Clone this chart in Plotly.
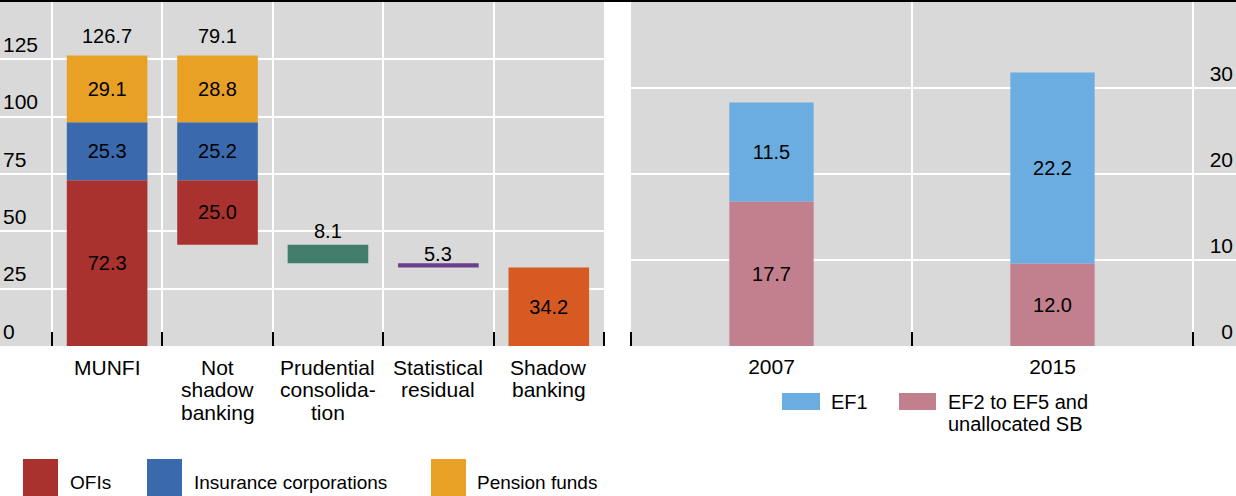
import plotly.graph_objects as go

# ---------------- data ----------------
left_categories = ["MUNFI", "Not<br>shadow<br>banking", "Prudential<br>consolida-<br>tion",
                   "Statistical<br>residual", "Shadow<br>banking"]
# stacked components of the first two bars (heights as drawn)
ofis = [72.3, 28.1]
insurance = [25.3, 25.3]
pension = [29.1, 29.1]
ofis_labels = ["72.3", "25.0"]
insurance_labels = ["25.3", "25.2"]
pension_labels = ["29.1", "28.8"]
total_labels = ["126.7", "79.1"]
prudential = 8.1
prudential_label = "8.1"
residual = 1.9
residual_label = "5.3"
shadow = 34.2
shadow_label = "34.2"

right_categories = ["2007", "2015"]
ef1 = [11.5, 22.2]
ef1_labels = ["11.5", "22.2"]
ef2 = [16.8, 9.6]
ef2_labels = ["17.7", "12.0"]

left_yticks = [0, 25, 50, 75, 100, 125]
right_yticks = [0, 10, 20, 30]

legend_left = ["OFIs", "Insurance corporations", "Pension funds"]
legend_right = ["EF1", "EF2 to EF5 and<br>unallocated SB"]

# ---------------- style ----------------
C_OFI = "#A9322F"
C_INS = "#3A6AAD"
C_PEN = "#E9A125"
C_PRU = "#427D6C"
C_RES = "#6A3F8B"
C_SHA = "#D65A22"
C_EF1 = "#6BADE0"
C_EF2 = "#C27F8E"
BG = "#D9D9D9"
FONT = "Liberation Sans, Arial, sans-serif"
W, H = 1236, 496


def px(x):
    return x / W


def py(y):
    return 1 - y / H


fig = go.Figure()

# ---- left panel: waterfall built from the data ----
munfi_total = ofis[0] + insurance[0] + pension[0]
ns_height = ofis[1] + insurance[1] + pension[1]
ns_base = munfi_total - ns_height
pru_base = ns_base - prudential
res_base = pru_base - residual

TXT = dict(size=20, color="black", family=FONT)

bases_ofi = [0, ns_base]
fig.add_trace(go.Bar(x=[0, 1], y=ofis, base=bases_ofi, marker_color=C_OFI, width=0.73,
                     text=ofis_labels, textposition="inside", insidetextanchor="middle",
                     textangle=0, textfont=TXT,
                     marker_line_width=0, xaxis="x", yaxis="y", showlegend=False))
bases_ins = [b + v for b, v in zip(bases_ofi, ofis)]
fig.add_trace(go.Bar(x=[0, 1], y=insurance, base=bases_ins, marker_color=C_INS, width=0.73,
                     text=insurance_labels, textposition="inside", insidetextanchor="middle",
                     textangle=0, textfont=TXT,
                     marker_line_width=0, xaxis="x", yaxis="y", showlegend=False))
bases_pen = [b + v for b, v in zip(bases_ins, insurance)]
fig.add_trace(go.Bar(x=[0, 1], y=pension, base=bases_pen, marker_color=C_PEN, width=0.73,
                     text=pension_labels, textposition="inside", insidetextanchor="middle",
                     textangle=0, textfont=TXT,
                     marker_line_width=0, xaxis="x", yaxis="y", showlegend=False))
fig.add_trace(go.Bar(x=[2], y=[prudential], base=[pru_base], marker_color=C_PRU, width=0.73,
                     marker_line_width=0, xaxis="x", yaxis="y", showlegend=False))
fig.add_trace(go.Bar(x=[3], y=[residual], base=[res_base], marker_color=C_RES, width=0.73,
                     marker_line_width=0, xaxis="x", yaxis="y", showlegend=False))
fig.add_trace(go.Bar(x=[4], y=[shadow], base=[0], marker_color=C_SHA, width=0.73,
                     text=[shadow_label], textposition="inside", insidetextanchor="middle",
                     textangle=0, textfont=TXT,
                     marker_line_width=0, xaxis="x", yaxis="y", showlegend=False))

tops = [b + v for b, v in zip(bases_pen, pension)]
annotations = []
for i, t in enumerate(tops):
    annotations.append(dict(x=i, y=t, xref="x", yref="y", text=total_labels[i],
                            showarrow=False, yanchor="bottom", yshift=6, font=TXT))
annotations.append(dict(x=2, y=pru_base + prudential, xref="x", yref="y", text=prudential_label,
                        showarrow=False, yanchor="bottom", yshift=1, font=TXT))
annotations.append(dict(x=3, y=res_base + residual, xref="x", yref="y", text=residual_label,
                        showarrow=False, yanchor="bottom", yshift=-4, font=TXT))

# category labels, one line at a time for tight line spacing
for i, cat in enumerate(left_categories):
    for j, line in enumerate(cat.split("<br>")):
        annotations.append(dict(x=i, y=py(367 + 22.5 * j), xref="x", yref="paper", text=line,
                                showarrow=False, yanchor="middle",
                                font=dict(size=21, color="black", family=FONT)))

# ---- right panel ----
fig.add_trace(go.Bar(x=[0, 1], y=ef2, marker_color=C_EF2, width=0.30,
                     text=ef2_labels, textposition="inside", insidetextanchor="middle",
                     textangle=0, textfont=TXT,
                     marker_line_width=0, xaxis="x2", yaxis="y2", showlegend=False))
fig.add_trace(go.Bar(x=[0, 1], y=ef1, base=ef2, marker_color=C_EF1, width=0.30,
                     text=ef1_labels, textposition="inside", insidetextanchor="middle",
                     textangle=0, textfont=TXT,
                     marker_line_width=0, xaxis="x2", yaxis="y2", showlegend=False))

# ---- manual legends ----
shapes = []
left_sw = [(23, 58, C_OFI), (147, 182, C_INS), (431, 466, C_PEN)]
left_tx = [68, 192, 475]
for (x0, x1, c), tx, name in zip(left_sw, left_tx, legend_left):
    shapes.append(dict(type="rect", xref="paper", yref="paper", x0=px(x0), x1=px(x1),
                       y0=py(496), y1=py(459), fillcolor=c, line_width=0))
    annotations.append(dict(x=px(tx), y=py(482), xref="paper", yref="paper", text=name,
                            showarrow=False, xanchor="left", yanchor="middle",
                            font=dict(size=19, color="black", family=FONT)))

right_sw = [(782, 820, C_EF1), (899, 936, C_EF2)]
right_tx = [829, 946]
for (x0, x1, c), tx, name in zip(right_sw, right_tx, legend_right):
    shapes.append(dict(type="rect", xref="paper", yref="paper", x0=px(x0), x1=px(x1),
                       y0=py(410), y1=py(393), fillcolor=c, line_width=0))
    for j, line in enumerate(name.split("<br>")):
        annotations.append(dict(x=px(tx), y=py(402 + 22 * j), xref="paper", yref="paper",
                                text=line, showarrow=False, xanchor="left", yanchor="middle",
                                font=dict(size=20, color="black", family=FONT)))

# top rule
shapes.append(dict(type="line", xref="paper", yref="paper", x0=0, x1=1, y0=py(1), y1=py(1),
                   line=dict(color="black", width=2)))

grid_minor = dict(tickmode="linear", tick0=-0.5, dtick=1, showgrid=True, gridcolor="white",
                  gridwidth=1.5, ticks="inside", ticklen=14, tickcolor="black", tickwidth=1.5)

fig.update_layout(
    width=W, height=H,
    margin=dict(l=0, r=0, t=0, b=0),
    paper_bgcolor="white",
    plot_bgcolor=BG,
    barmode="overlay",
    font=dict(family=FONT, color="black", size=20),
    uniformtext=dict(minsize=20, mode="show"),
    xaxis=dict(domain=[0, px(604)], range=[-0.97, 4.5], tickvals=[0, 1, 2, 3, 4],
               ticktext=["", "", "", "", ""], showgrid=False, zeroline=False, ticks="",
               minor=grid_minor, showline=False, fixedrange=True),
    yaxis=dict(domain=[py(346), py(2)], range=[0, 150], tickvals=left_yticks,
               ticklabelposition="inside top", showgrid=True, gridcolor="white",
               gridwidth=1.5, zeroline=False, ticks="",
               tickfont=dict(size=21, color="black", family=FONT), showline=False),
    xaxis2=dict(domain=[px(631), 1], range=[-0.5, 1.653], tickvals=[0, 1],
                ticktext=right_categories, showgrid=False, zeroline=False, ticks="",
                minor=grid_minor, showline=False, anchor="y2",
                tickfont=dict(size=21, color="black", family=FONT), ticklabelstandoff=6),
    yaxis2=dict(domain=[py(346), py(2)], range=[0, 40], tickvals=right_yticks, side="right",
                anchor="x2", ticklabelposition="inside top", showgrid=True,
                gridcolor="white", gridwidth=1.5, zeroline=False, ticks="",
                tickfont=dict(size=21, color="black", family=FONT), showline=False),
    annotations=annotations,
    shapes=shapes,
)

fig.write_html("out.html", config={"displayModeBar": False},
               post_script="document.body.style.margin='0';document.body.style.overflow='hidden';")
